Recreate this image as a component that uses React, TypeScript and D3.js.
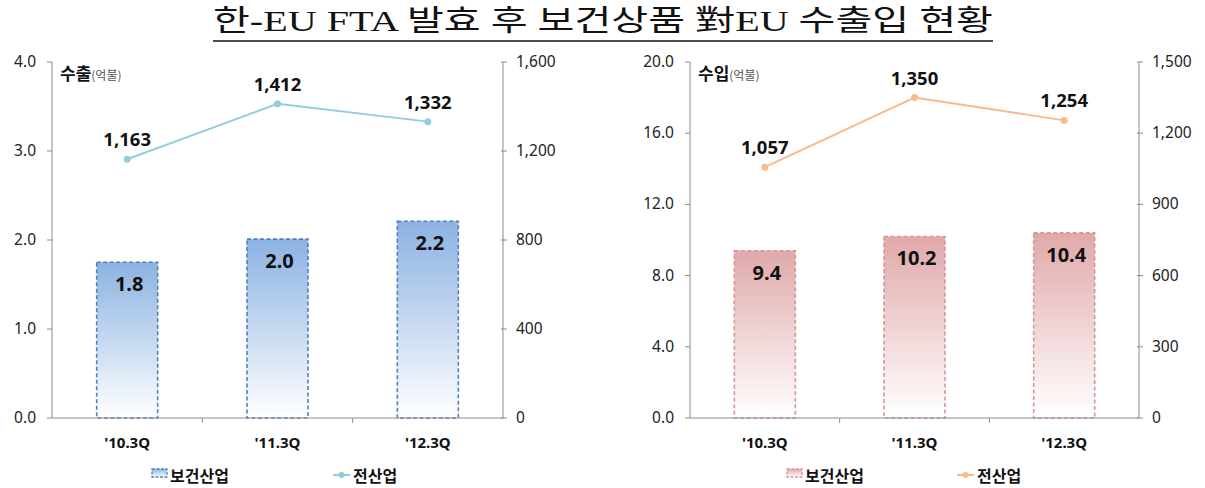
import React from "react";
import * as d3 from "d3";

const categories = ["'10.3Q", "'11.3Q", "'12.3Q"];
const exportHealth = [1.75, 2.01, 2.21];
const exportHealthLabels = ["1.8", "2.0", "2.2"];
const exportAll = [1163, 1412, 1332];
const importHealth = [9.4, 10.2, 10.4];
const importHealthLabels = ["9.4", "10.2", "10.4"];
const importAll = [1057, 1350, 1254];
const exportLeftTicks = [0, 1, 2, 3, 4];
const exportRightTicks = [0, 400, 800, 1200, 1600];
const importLeftTicks = [0, 4, 8, 12, 16, 20];
const importRightTicks = [0, 300, 600, 900, 1200, 1500];

const FONT = "'Noto Sans', 'Noto Sans CJK KR', sans-serif";
const KFONT = "'Noto Sans CJK KR', sans-serif";

type PanelProps = {
  x0: number;
  x1: number;
  title: string;
  bars: number[];
  barLabels: string[];
  line: number[];
  leftMax: number;
  rightMax: number;
  leftTicks: number[];
  rightTicks: number[];
  barTop: string;
  barStroke: string;
  lineColor: string;
  gradId: string;
  legendX: [number, number];
};

function Panel(p: PanelProps) {
  const top = 62;
  const bottom = 418;
  const x = d3.scaleBand<string>().domain(categories).range([p.x0, p.x1]).paddingInner(0).paddingOuter(0);
  const yL = d3.scaleLinear().domain([0, p.leftMax]).range([bottom, top]);
  const yR = d3.scaleLinear().domain([0, p.rightMax]).range([bottom, top]);
  const bw = 61;
  const cx = (c: string) => (x(c) as number) + x.bandwidth() / 2;
  const lineGen = d3
    .line<number>()
    .x((_, i) => cx(categories[i]))
    .y((d) => yR(d));
  const axisColor = "#8c8c8c";
  const fmtL = d3.format(".1f");
  const fmtR = d3.format(",");
  return (
    <g>
      <defs>
        <linearGradient id={p.gradId} x1="0" y1="0" x2="0" y2="1">
          <stop offset="0%" stopColor={p.barTop} />
          <stop offset="100%" stopColor="#ffffff" />
        </linearGradient>
      </defs>
      {p.bars.map((v, i) => {
        const c = categories[i];
        return (
          <rect
            key={"b" + i}
            x={cx(c) - bw / 2}
            y={yL(v)}
            width={bw}
            height={bottom - yL(v)}
            fill={`url(#${p.gradId})`}
            stroke={p.barStroke}
            strokeWidth={1.6}
            strokeDasharray="4,2.5"
          />
        );
      })}
      {p.bars.map((v, i) => (
        <text
          key={"bl" + i}
          x={cx(categories[i]) + 2}
          y={yL(v) + 29}
          textAnchor="middle"
          fontFamily={FONT}
          fontWeight="bold"
          fontSize={20}
          fill="#111"
        >
          {p.barLabels[i]}
        </text>
      ))}
      <line x1={p.x0} x2={p.x0} y1={top} y2={bottom} stroke={axisColor} />
      <line x1={p.x1} x2={p.x1} y1={top} y2={bottom} stroke={axisColor} />
      <line x1={p.x0} x2={p.x1} y1={bottom} y2={bottom} stroke={axisColor} />
      {p.leftTicks.map((t) => (
        <g key={"lt" + t}>
          <line x1={p.x0 - 5} x2={p.x0} y1={yL(t)} y2={yL(t)} stroke={axisColor} />
          <text x={p.x0 - 16} y={yL(t) + 5} textAnchor="end" fontFamily={FONT} fontSize={15.5} fill="#222">
            {fmtL(t)}
          </text>
        </g>
      ))}
      {p.rightTicks.map((t) => (
        <g key={"rt" + t}>
          <line x1={p.x1 - 2} x2={p.x1 + 4} y1={yR(t)} y2={yR(t)} stroke={axisColor} />
          <text x={p.x1 + 13} y={yR(t) + 5} textAnchor="start" fontFamily={FONT} fontSize={15.5} fill="#222">
            {fmtR(t)}
          </text>
        </g>
      ))}
      {categories.slice(1).map((c) => (
        <line key={"xt" + c} x1={x(c)} x2={x(c)} y1={bottom} y2={bottom + 5} stroke={axisColor} />
      ))}
      {categories.map((c) => (
        <text
          key={"xl" + c}
          x={cx(c)}
          y={448}
          textAnchor="middle"
          fontFamily={FONT}
          fontWeight="bold"
          fontSize={15}
          fill="#111"
        >
          {c}
        </text>
      ))}
      <path d={lineGen(p.line) || ""} fill="none" stroke={p.lineColor} strokeWidth={2} />
      {p.line.map((v, i) => (
        <circle key={"c" + i} cx={cx(categories[i])} cy={yR(v)} r={3.5} fill={p.lineColor} />
      ))}
      {p.line.map((v, i) => (
        <text
          key={"ll" + i}
          x={cx(categories[i])}
          y={yR(v) - 13}
          textAnchor="middle"
          fontFamily={FONT}
          fontWeight="bold"
          fontSize={18.5}
          fill="#111"
        >
          {fmtR(v)}
        </text>
      ))}
      <text x={p.x0 + 8} y={80} fontFamily={KFONT} fill="#111">
        <tspan fontWeight="bold" fontSize={17}>
          {p.title}
        </tspan>
        <tspan fontSize={12} fill="#555">
          (억불)
        </tspan>
      </text>
      <rect
        x={p.legendX[0]}
        y={469}
        width={15}
        height={8}
        fill={`url(#${p.gradId})`}
        stroke={p.barStroke}
        strokeWidth={1.3}
        strokeDasharray="3,1.5"
      />
      <text x={p.legendX[0] + 18} y={482} fontFamily={KFONT} fontWeight="bold" fontSize={16} fill="#111">
        보건산업
      </text>
      <line x1={p.legendX[1]} x2={p.legendX[1] + 17} y1={475} y2={475} stroke={p.lineColor} strokeWidth={2} />
      <circle cx={p.legendX[1] + 8.5} cy={475} r={3} fill={p.lineColor} />
      <text x={p.legendX[1] + 20} y={482} fontFamily={KFONT} fontWeight="bold" fontSize={16} fill="#111">
        전산업
      </text>
    </g>
  );
}

export default function App() {
  return (
    <svg width={1205} height={488} style={{ position: "absolute", left: 0, top: 0, background: "#fff" }}>
      <rect width={1205} height={488} fill="#fff" />
      <text
        x={603}
        y={31}
        textAnchor="middle"
        fontFamily="'Liberation Serif', 'Noto Sans CJK KR', serif"
        fontSize={29}
        fill="#111"
        textLength={780}
        lengthAdjust="spacingAndGlyphs"
      >
        한-EU FTA 발효 후 보건상품 對EU 수출입 현황
      </text>
      <line x1={213} x2={993} y1={41} y2={41} stroke="#111" strokeWidth={1.5} />
      <Panel
        x0={52}
        x1={503}
        title="수출"
        bars={exportHealth}
        barLabels={exportHealthLabels}
        line={exportAll}
        leftMax={4}
        rightMax={1600}
        leftTicks={exportLeftTicks}
        rightTicks={exportRightTicks}
        barTop="#8cb2e2"
        barStroke="#4f81bd"
        lineColor="#93cddd"
        gradId="gradBlue"
        legendX={[152, 333]}
      />
      <Panel
        x0={690}
        x1={1139}
        title="수입"
        bars={importHealth}
        barLabels={importHealthLabels}
        line={importAll}
        leftMax={20}
        rightMax={1500}
        leftTicks={importLeftTicks}
        rightTicks={importRightTicks}
        barTop="#e0a9aa"
        barStroke="#d99694"
        lineColor="#f9bb8c"
        gradId="gradRed"
        legendX={[787, 957]}
      />
    </svg>
  );
}
